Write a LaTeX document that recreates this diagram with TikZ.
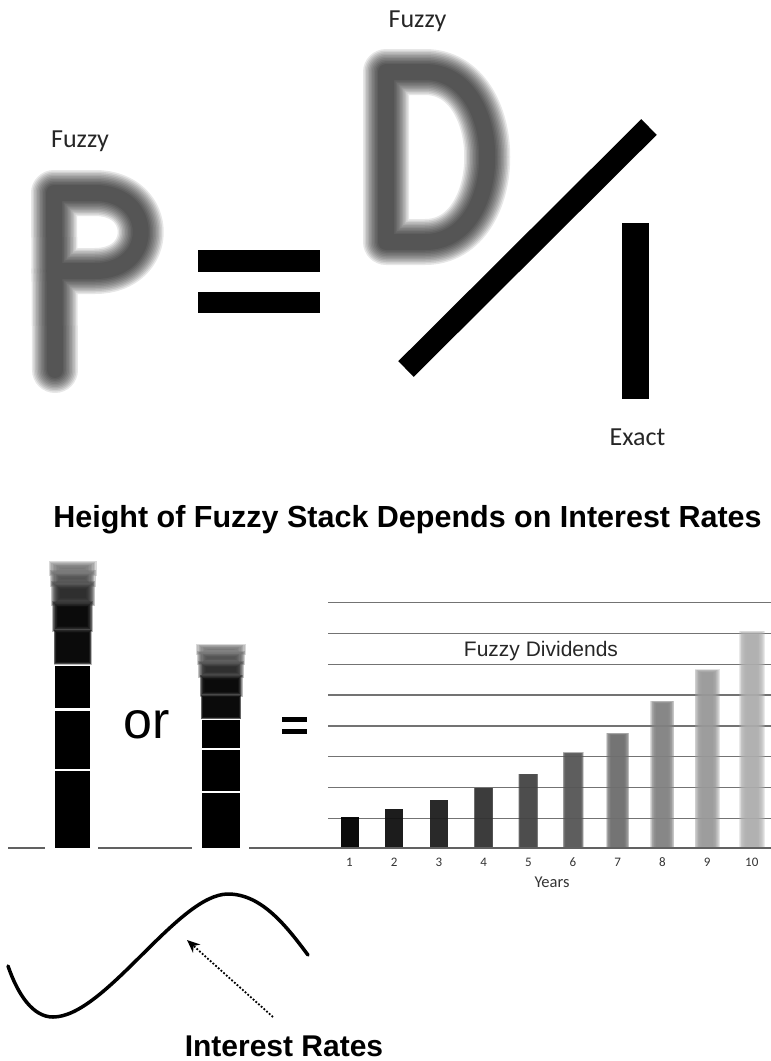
\documentclass[tikz,border=0pt]{standalone}
\usepackage{fontspec}
\setmainfont{Liberation Sans}
\newfontfamily\calib{Carlito}
\usetikzlibrary{arrows.meta}
% soft (blurred) stroke: the same path laid down several times
\newcommand{\kabur}[1]{\foreach \w in {46,43,...,16}
  \draw[line width=\w pt,opacity=.095,line cap=round,line join=round] #1;}
% soft box: [colour]{left}{top}{right}{bottom}{blur x}{blur y}
\newcommand{\blok}[7][black]{\foreach \q in {0,...,9}{%
  \pgfmathsetmacro\ddx{#6*(1-\q/4.5)}\pgfmathsetmacro\ddy{#7*(1-\q/4.5)}%
  \fill[#1,opacity=.27] ({#2-(\ddx)},{#3-(\ddy)}) rectangle ({#4+(\ddx)},{#5+(\ddy)});}}

\begin{document}
\begin{tikzpicture}[x=1pt,y=-1pt,
    lbl/.style={font=\calib\fontsize{26}{30}\selectfont,text=black!85,anchor=base,inner sep=0pt},
    head/.style={font=\fontsize{30.5}{36}\selectfont\bfseries,anchor=base,inner sep=0pt},
    tick/.style={font=\calib\fontsize{13}{15}\selectfont,text=black!80,anchor=base,inner sep=0pt},
    grid/.style={black!55,line width=1.4pt},
    base/.style={black!62,line width=2pt}]
  \useasboundingbox (0,0) rectangle (771,1061);

  % P = D / I
  \kabur{(55,370) -- (54,193) -- (95,193) .. controls (156,193) and (156,271) .. (95,271) -- (54,271)}
  \kabur{(386,72) -- (425,72) .. controls (508,72) and (508,242) .. (425,242) -- (386,242) -- cycle}
  \fill (198,250) rectangle (320,272);
  \fill (198,292) rectangle (320,313);
  \draw[line width=22pt] (406,369) -- (649,127);
  \fill (622,223) rectangle (649,399);

  \node[lbl] (fuzzyP) at (80,147.5)  {Fuzzy};
  \node[lbl] (fuzzyD) at (417.5,27)  {Fuzzy};
  \node[lbl] (exactI) at (637.5,445) {Exact};

  \node[head] (title) at (407.5,527) {Height of Fuzzy Stack Depends on Interest Rates};

  % tall stack
  \fill (55,771) rectangle (90,848);
  \fill (55,711) rectangle (90,769);
  \fill (55,666) rectangle (90,708);
  \blok{55}{631}{90}{663}{1.5}{1.5}
  \blok{55}{604}{90}{629}{3}{3}
  \blok[black!85]{55}{585}{90}{602}{4.5}{4}
  \blok[black!70]{55}{574}{90}{583}{5.5}{4}
  \blok[black!55]{55}{565}{90}{572}{6.5}{4}

  % short stack
  \fill (202,793) rectangle (240,848);
  \fill (202,750) rectangle (240,791);
  \fill (202,720) rectangle (240,748);
  \blok{202}{696}{240}{718}{1}{1}
  \blok{202}{677}{240}{694}{2.5}{2.5}
  \blok[black!85]{202}{664}{240}{675}{4}{3}
  \blok[black!70]{202}{654}{240}{662}{5}{3}
  \blok[black!55]{202}{647}{240}{652}{6}{3}

  \node[anchor=base,inner sep=0pt,font=\fontsize{52}{60}\selectfont] (orword) at (147,738) {or};
  \fill (282,717) rectangle (307,722);
  \fill (282,729) rectangle (307,734);

  % dividend chart
  \foreach \n in {1,...,8}
    \draw[grid] (328,{849-30.8*\n}) -- (771,{849-30.8*\n});
  \begin{scope}
    \clip (330,560) rectangle (771,847);
    \foreach \n/\h/\g/\bl in {1/817/100/0, 2/809/93/0, 3/800/88/0.3, 4/788/80/0.6,
        5/774/73/1, 6/753/66/1.5, 7/734/57/2.5, 8/702/49/3, 9/671/40/3.5, 10/633/32/4}{
      \pgfmathsetmacro\cx{349.5+44.7*(\n-1)}
      \blok[black!\g]{\cx-9}{\h}{\cx+9}{848}{\bl}{\bl/2}
    }
  \end{scope}
  \draw[base] (8,848) -- (45,848) (98,848) -- (192,848) (249,848) -- (771,848);

  \node[anchor=base,inner sep=0pt,font=\fontsize{21}{25}\selectfont,text=black!85] (dividends) at (541,656) {Fuzzy Dividends};
  \foreach \n in {1,...,10}
    \node[tick] (yr\n) at ({349.5+44.7*(\n-1)},866) {\n};
  \node[tick,font=\calib\fontsize{16.5}{19}\selectfont] (years) at (552,887) {Years};

  % interest rate wave
  \draw[line width=3.5pt,line cap=round]
    (8,966) .. controls (18,995) and (33,1017) .. (53,1017)
    .. controls (105,1017) and (178,894) .. (228,894)
    .. controls (262,894) and (287,927) .. (308,955);
  \coordinate (tail) at (273,1017);
  \coordinate (tip)  at (187,940);
  \draw[line width=1.8pt,dash pattern=on 1.8pt off 1.8pt,-{Stealth[length=13pt,width=11pt]}] (tail) -- (tip);
  \node[head,font=\fontsize{30}{35}\selectfont\bfseries] (rates) at (284,1056) {Interest Rates};
\end{tikzpicture}
\end{document}
